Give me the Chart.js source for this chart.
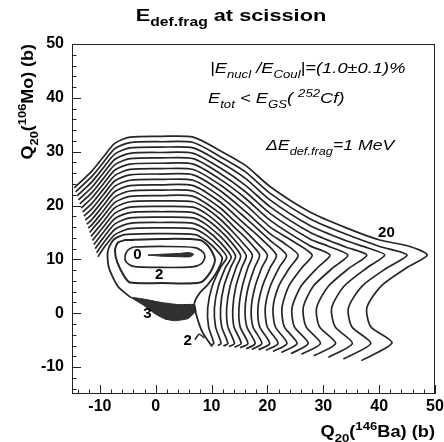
<!DOCTYPE html>
<html>

<head>
    <meta charset="utf-8">
    <title>E def.frag at scission</title>
    <script src="https://cdn.jsdelivr.net/npm/chart.js@4"></script>
    <style>
        html, body { margin: 0; padding: 0; background: #fff; }
        canvas { display: block; }
    </style>
</head>

<body>
    <canvas id="myChart" width="444" height="442"></canvas>

    <script>
        // contour lines of E_def.frag (1 MeV step), points as [Q20(Ba), Q20(Mo)] in barn
        var level21 = [[-14.6, 23.3], [-11.4, 26.45], [-9.4, 29.0], [-7.3, 31.6], [-4.6, 32.7], [1, 32.85], [6.7, 32.7], [11.5, 30.2], [16, 27.5], [20.5, 23.5], [27.6, 18.8], [34, 15.9], [40.1, 13.6], [45.5, 12.4], [48.6, 10.8], [45.0, 8.5], [40.3, 5.0], [37.8, 1.0], [38.5, -2.5], [42.3, -5.5], [36.8, -8.8]];
        var level20 = [[-14.35, 22.55], [-11.4, 25.45], [-9.4, 28.0], [-7.3, 30.6], [-4.6, 31.7], [1, 31.85], [6.7, 31.7], [11.5, 29.1], [16, 26.3], [20.5, 22.25], [27.6, 17.55], [34, 14.7], [40.1, 12.4], [45.0, 10.8], [41.5, 8.5], [36.9, 5.0], [34.5, 1.0], [35.1, -2.5], [38.5, -5.6], [33.6, -8.5]];
        var level19 = [[-14.1, 21.8], [-11.4, 24.45], [-9.4, 27.0], [-7.3, 29.6], [-4.6, 30.7], [1, 30.85], [6.7, 30.7], [11.5, 28.1], [16, 25.1], [20.5, 21.0], [27.6, 16.3], [34, 13.5], [38, 12.1], [41.0, 10.8], [37.9, 8.5], [33.7, 5.0], [31.5, 1.0], [32.1, -2.5], [35.2, -5.6], [30.9, -8.2]];
        var level18 = [[-13.85, 21.05], [-11.4, 23.45], [-9.4, 26.0], [-7.3, 28.6], [-4.6, 29.7], [1, 29.85], [6.7, 29.7], [11.5, 27.0], [16, 23.8], [20.5, 19.75], [27.6, 15.05], [34, 12.3], [37.8, 10.8], [34.8, 8.5], [30.9, 5.0], [28.8, 1.0], [29.3, -2.5], [32.2, -5.6], [28.3, -7.9]];
        var level17 = [[-13.6, 20.3], [-11.4, 22.45], [-9.4, 25.0], [-7.3, 27.6], [-4.6, 28.7], [1, 28.85], [6.7, 28.7], [11.5, 25.95], [16, 22.6], [20.5, 18.5], [27.6, 13.8], [31, 12.4], [34.4, 10.8], [31.8, 8.5], [28.2, 5.0], [26.4, 1.0], [26.9, -2.5], [29.5, -5.6], [26.1, -7.6]];
        var level16 = [[-13.35, 19.55], [-11.4, 21.45], [-9.4, 24.0], [-7.3, 26.6], [-4.6, 27.7], [1, 27.85], [6.7, 27.7], [11.5, 24.9], [16, 21.4], [20.5, 17.25], [27.6, 12.55], [31.2, 10.8], [29.0, 8.5], [26.0, 5.0], [24.4, 1.0], [24.8, -2.5], [27.3, -5.6], [24.2, -7.5]];
        var level15 = [[-13.1, 18.8], [-11.4, 20.45], [-9.4, 23.0], [-7.3, 25.6], [-4.6, 26.7], [1, 26.85], [6.7, 26.7], [11.5, 23.85], [16, 20.2], [20.5, 16.0], [24.5, 13.4], [28.0, 10.8], [26.2, 8.5], [23.8, 5.0], [22.6, 1.0], [23.0, -2.5], [25.3, -5.6], [22.5, -7.3]];
        var level14 = [[-12.85, 18.05], [-11.4, 19.45], [-9.4, 22.0], [-7.3, 24.6], [-4.6, 25.7], [1, 25.85], [6.7, 25.7], [11.5, 22.8], [16, 18.95], [20.5, 14.75], [23, 13.0], [25.5, 10.8], [24.0, 8.5], [22.0, 5.0], [21.0, 1.0], [21.4, -2.5], [23.5, -5.6], [21.0, -7.1]];
        var level13 = [[-12.6, 17.3], [-11.4, 18.45], [-9.4, 21.0], [-7.3, 23.6], [-4.6, 24.7], [1, 24.85], [6.7, 24.7], [11.5, 21.7], [16, 17.75], [20.5, 13.5], [23.4, 10.8], [22.1, 8.5], [20.5, 5.0], [19.6, 1.0], [19.95, -2.5], [21.9, -5.6], [19.7, -6.9]];
        var level12 = [[-12.35, 16.55], [-11.4, 17.45], [-9.4, 20.0], [-7.3, 22.6], [-4.6, 23.7], [1, 23.85], [6.7, 23.7], [11.5, 20.65], [16, 16.5], [19, 13.7], [21.6, 10.8], [20.5, 8.5], [19.1, 5.0], [18.3, 1.0], [18.6, -2.5], [20.4, -5.6], [18.4, -6.8]];
        var level11 = [[-12.1, 15.8], [-11.4, 16.45], [-9.4, 19.0], [-7.3, 21.6], [-4.6, 22.7], [1, 22.85], [6.7, 22.7], [11.5, 19.6], [14, 17.2], [16, 15.3], [17.9, 13.3], [20.0, 10.8], [19.0, 8.5], [17.8, 5.0], [17.1, 1.0], [17.4, -2.5], [19.0, -5.6], [17.2, -6.7]];
        var level10 = [[-11.85, 15.0], [-9.4, 18.0], [-7.3, 20.6], [-4.6, 21.7], [1, 21.85], [6.7, 21.7], [11.5, 18.55], [14, 16.05], [16, 14.1], [17.4, 12.5], [18.6, 10.8], [17.7, 8.5], [16.6, 5.0], [16.0, 1.0], [16.3, -2.5], [17.8, -5.6], [16.2, -6.6]];
        var level9 = [[-11.6, 14.25], [-9.4, 17.0], [-7.3, 19.6], [-4.6, 20.7], [1, 20.85], [6.7, 20.7], [9, 19.5], [11.5, 17.5], [14, 14.9], [15.8, 12.8], [17.3, 10.8], [16.5, 8.5], [15.5, 5.0], [14.9, 1.0], [15.1, -2.5], [16.5, -5.6], [15.1, -6.4]];
        var level8 = [[-11.35, 13.5], [-9.4, 16.0], [-7.3, 18.6], [-4.6, 19.7], [1, 19.85], [6.7, 19.7], [9, 18.5], [11.5, 16.4], [14, 13.75], [16.2, 10.7], [15.4, 8.5], [14.35, 5.0], [13.8, 1.0], [14.0, -2.5], [15.3, -5.6], [14.1, -6.3]];
        var level7 = [[-11.1, 12.75], [-9.4, 15.0], [-7.3, 17.6], [-4.6, 18.7], [1, 18.85], [6.7, 18.7], [9, 17.5], [11.5, 15.4], [13.5, 13.2], [15.2, 10.7], [14.4, 8.5], [13.3, 5.0], [12.7, 1.0], [12.9, -2.5], [14.1, -5.6], [13.1, -6.2]];
        var level6 = [[-10.85, 12.0], [-9.4, 14.0], [-7.3, 16.6], [-4.6, 17.7], [1, 17.85], [6.7, 17.7], [9, 16.5], [11.5, 14.3], [13.2, 12.4], [14.3, 10.6], [13.4, 8.5], [12.2, 5.0], [11.6, 1.0], [11.8, -2.5], [12.9, -5.6], [12.1, -6.1]];
        var level5 = [[-10.6, 11.25], [-9.4, 13.0], [-7.3, 15.6], [-4.6, 16.7], [1, 16.85], [6.7, 16.7], [9, 15.5], [11.5, 13.2], [13.5, 10.5], [12.5, 8.5], [11.2, 5.0], [10.5, 1.0], [10.7, -2.5], [11.7, -5.6], [11.1, -6.0]];
        var level4 = [[-10.35, 10.5], [-9.4, 12.0], [-7.3, 14.6], [-4.6, 15.7], [1, 15.85], [6.7, 15.7], [9, 14.5], [11.3, 12.4], [12.7, 10.4], [11.6, 8.5], [10.1, 5.0], [9.3, 1.0], [9.45, -2.5], [10.4, -5.6], [10.0, -5.9]];
        var level3 = [[-4.6, 3.0], [-6.8, 5.0], [-8.4, 8.5], [-8.6, 11.5], [-7.6, 13.6], [-5.6, 14.6], [1, 14.8], [7, 14.6], [9, 13.5], [10.8, 11.8], [11.9, 10.2], [11.0, 7.8], [9.3, 5.3], [7.9, 3.8], [6.9, 1.8], [7.4, -0.8], [8.4, -3.6], [10.1, -6.2]];
        var level3Patch = [[-4.6, 3.0], [-2, 2.6], [1, 2.0], [4, 1.6], [6.9, 1.6], [7.2, 0.4], [5.8, -1.0], [3.5, -1.4], [1.7, -1.1], [0, -0.2], [-2.2, 1.5], [-4.6, 3.0]];
        var level2 = [[-5.5, 13.6], [1, 13.8], [7.9, 13.6], [9.6, 12.2], [10.6, 9.9], [9.7, 7.5], [7.9, 5.7], [1, 5.6], [-4.6, 5.7], [-5.6, 6.8], [-6.9, 9.5], [-7.3, 11.7], [-6.8, 13.1], [-5.5, 13.6]];
        var level2Hook = [[7.0, -4.9], [7.8, -3.9], [8.7, -4.6]];
        var level1 = [[-4, 12.3], [1, 12.4], [7, 12.2], [8.5, 11.3], [8.8, 10.4], [8.2, 9.2], [6.5, 8.6], [1, 8.5], [-4, 8.7], [-5.3, 9.5], [-5.5, 10.6], [-5, 11.7], [-4, 12.3]];
        var level0 = [[-1.4, 10.8], [1, 10.95], [4, 11.1], [6, 11.25], [6.8, 10.95], [6.2, 10.5], [4, 10.5], [1, 10.6], [-1.4, 10.8]];

        var xTicks = [-10, 0, 10, 20, 30, 40, 50];
        var yTicks = [-10, 0, 10, 20, 30, 40, 50];

        var ink = '#262626';
        var fontFamily = '"Liberation Sans", Arial, Helvetica, sans-serif';

        function toPoints(arr) {
            return arr.map(function (p) { return { x: p[0], y: p[1] }; });
        }

        function lineSet(arr, width) {
            return {
                data: toPoints(arr),
                showLine: true,
                borderColor: ink,
                borderWidth: width,
                pointRadius: 0,
                tension: 0.25,
                fill: false
            };
        }

        function patchSet(arr, tension) {
            return {
                data: toPoints(arr),
                showLine: true,
                borderColor: ink,
                backgroundColor: '#303030',
                borderWidth: 1,
                pointRadius: 0,
                tension: tension,
                fill: 'shape'
            };
        }

        var datasets = [];
        [level4, level5, level6, level7, level8, level9, level10, level11, level12,
            level13, level14, level15, level16, level17, level18, level19, level20, level21].forEach(function (lev) {
                datasets.push(lineSet(lev, 1.7));
            });
        datasets.push(lineSet(level3, 1.8));
        datasets.push(patchSet(level3Patch, 0.1));
        datasets.push(lineSet(level2, 2));
        datasets.push(lineSet(level2Hook, 1.6));
        datasets.push(lineSet(level1, 1.7));
        datasets.push(patchSet(level0, 0.25));

        // draws text made of normal / sub / sup pieces, returns its width
        function drawRich(ctx, x, y, parts, size, style, sx, dryRun) {
            ctx.save();
            ctx.translate(x, y);
            ctx.scale(sx, 1);
            var cx = 0;
            parts.forEach(function (p) {
                var s = p[1] === 'n' ? size : size * 0.72;
                var dy = p[1] === 'sub' ? size * 0.32 : (p[1] === 'sup' ? -size * 0.42 : 0);
                ctx.font = style + ' ' + s + 'px ' + fontFamily;
                if (!dryRun) ctx.fillText(p[0], cx, dy);
                cx += ctx.measureText(p[0]).width;
            });
            ctx.restore();
            return cx * sx;
        }

        var decorations = {
            id: 'decorations',
            afterDraw: function (chart) {
                var ctx = chart.ctx;
                var a = chart.chartArea;
                var xs = chart.scales.x, ys = chart.scales.y;

                ctx.save();
                // frame
                ctx.strokeStyle = '#222';
                ctx.lineWidth = 1;
                ctx.strokeRect(a.left + 0.5, a.top + 0.5, a.right - a.left - 1, a.bottom - a.top - 1);

                // inward ticks on the bottom and left axes
                ctx.beginPath();
                for (var v = -14; v <= 50; v += 2) {
                    var len = (v % 10 === 0) ? 9 : 4.5;
                    var px = Math.round(xs.getPixelForValue(v)) + 0.5;
                    ctx.moveTo(px, a.bottom);
                    ctx.lineTo(px, a.bottom - len);
                    var py = Math.round(ys.getPixelForValue(v)) + 0.5;
                    ctx.moveTo(a.left, py);
                    ctx.lineTo(a.left + len, py);
                }
                ctx.stroke();

                ctx.fillStyle = '#000';
                ctx.textBaseline = 'alphabetic';
                ctx.textAlign = 'left';

                // title
                var titleParts = [['E', 'n'], ['def.frag', 'sub'], [' at scission', 'n']];
                var tw = drawRich(ctx, 0, 0, titleParts, 17, 'bold', 1.28, true);
                drawRich(ctx, 231 - tw / 2, 21, titleParts, 17, 'bold', 1.28);

                // annotations
                drawRich(ctx, 210, 73, [['|E', 'n'], ['nucl', 'sub'], [' /E', 'n'], ['Coul', 'sub'], ['|=(1.0\u00b10.1)%', 'n']], 15, 'italic', 1.22);
                drawRich(ctx, 208, 103, [['E', 'n'], ['tot', 'sub'], [' < E', 'n'], ['GS', 'sub'], ['( ', 'n'], ['252', 'sup'], ['Cf)', 'n']], 15, 'italic', 1.22);
                drawRich(ctx, 266, 150, [['\u0394E', 'n'], ['def.frag', 'sub'], ['=1 MeV', 'n']], 15, 'italic', 1.18);

                // x axis title, right aligned to the frame
                var xParts = [['Q', 'n'], ['20', 'sub'], ['(', 'n'], ['146', 'sup'], ['Ba) (b)', 'n']];
                var xw = drawRich(ctx, 0, 0, xParts, 16, 'bold', 1.14, true);
                drawRich(ctx, a.right - xw, 437, xParts, 16, 'bold', 1.14);

                // y axis title, rotated, aligned to the top of the frame
                var yParts = [['Q', 'n'], ['20', 'sub'], ['(', 'n'], ['106', 'sup'], ['Mo) (b)', 'n']];
                var yw = drawRich(ctx, 0, 0, yParts, 16, 'bold', 1.12, true);
                ctx.save();
                ctx.translate(33, a.top);
                ctx.rotate(-Math.PI / 2);
                drawRich(ctx, -yw, 0, yParts, 16, 'bold', 1.12);
                ctx.restore();

                // contour labels
                ctx.textAlign = 'center';
                ctx.textBaseline = 'middle';
                ctx.font = 'bold 15px ' + fontFamily;
                [['0', -3.3, 10.8], ['2', 0.6, 7.1], ['3', -1.5, -0.1], ['2', 5.7, -5.2], ['20', 41.3, 15.0]].forEach(function (l) {
                    ctx.fillText(l[0], xs.getPixelForValue(l[1]), ys.getPixelForValue(l[2]));
                });
                ctx.restore();
            }
        };

        var tickFont = { family: fontFamily, size: 16, weight: 'bold' };

        var myChart = new Chart(document.getElementById('myChart').getContext('2d'), {
            type: 'scatter',
            data: { datasets: datasets },
            options: {
                responsive: false,
                animation: false,
                layout: { padding: { top: 44, right: 9, left: 0, bottom: 0 } },
                plugins: {
                    legend: { display: false },
                    tooltip: { enabled: false },
                    title: { display: false }
                },
                scales: {
                    x: {
                        type: 'linear',
                        min: -15,
                        max: 50,
                        grid: { display: false, drawTicks: false },
                        border: { display: false },
                        ticks: { font: tickFont, color: '#000', padding: 3, maxRotation: 0, autoSkip: false },
                        afterBuildTicks: function (s) { s.ticks = xTicks.map(function (v) { return { value: v }; }); },
                        afterFit: function (s) { s.height = 48; s.paddingLeft = 0; s.paddingRight = 0; }
                    },
                    y: {
                        type: 'linear',
                        min: -15,
                        max: 50,
                        grid: { display: false, drawTicks: false },
                        border: { display: false },
                        ticks: { font: tickFont, color: '#000', padding: 8, autoSkip: false },
                        afterBuildTicks: function (s) { s.ticks = yTicks.map(function (v) { return { value: v }; }); },
                        afterFit: function (s) { s.width = 72; s.paddingTop = 0; s.paddingBottom = 0; }
                    }
                }
            },
            plugins: [decorations]
        });
    </script>

</body>

</html>
